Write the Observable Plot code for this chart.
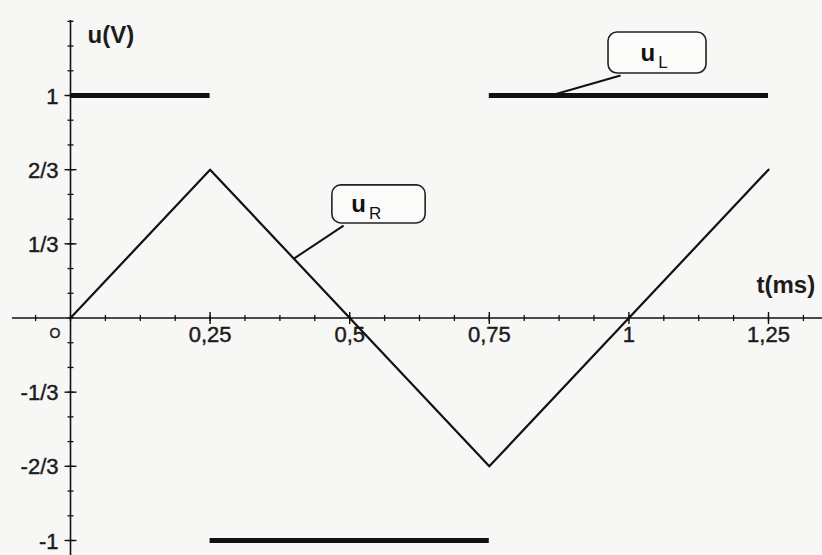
<!DOCTYPE html>
<html>
<head>
<meta charset="utf-8">
<script src="https://cdn.jsdelivr.net/npm/d3@7"></script>
<script src="https://cdn.jsdelivr.net/npm/@observablehq/plot@0.6"></script>
<style>
  html, body { margin: 0; padding: 0; background: #f7f7f5; }
  #chart svg { display: block; }
</style>
</head>
<body>
<div id="chart"></div>
<script>
// u_R(t): triangular voltage across the resistor (vertices)
const tR = [0, 0.25, 0.75, 1.25];
const uR = [0, 2/3, -2/3, 2/3];

// u_L(t): square voltage across the coil, one constant level per segment
const tLStart = [0, 0.25, 0.75];
const tLEnd   = [0.25, 0.75, 1.25];
const uL      = [1, -1, 1];

// graduations and their labels
const xTickValues = [0.25, 0.5, 0.75, 1, 1.25];
const xTickLabels = ["0,25", "0,5", "0,75", "1", "1,25"];
const yTickValues = [1, 2/3, 1/3, -1/3, -2/3, -1];
const yTickLabels = ["1", "2/3", "1/3", "-1/3", "-2/3", "-1"];

// callout labels: name, subscript
const calloutMain = ["u", "u"];
const calloutSub  = ["L", "R"];

// ---- layout ----
const W = 822, H = 555;
const originX = 70, pxPerMs = 558.4;
const originY = 317.5, pxPerV = 222.5;
const xDomain = [-originX / pxPerMs, (W - originX) / pxPerMs];
const yDomain = [-(H - originY) / pxPerV, originY / pxPerV];

const ink = "#111";
const labelInk = "#1c1c1c";
const font = "'Liberation Sans', Arial, Helvetica, sans-serif";

const triangle = tR.map((t, i) => ({t, u: uR[i]}));
const square = tLStart.map((t, i) => ({t1: t, t2: tLEnd[i], u: uL[i]}));

// minor graduations: every 1/16 ms and every 1/9 V
const xMinor = d3.range(-1, 22).map(i => i / 16);
const yMinor = d3.range(-9, 13).map(i => i / 9);

// short line symbols for the graduation ticks
const vTick = {draw(ctx, size) { const r = Math.sqrt(size / Math.PI); ctx.moveTo(0, -r); ctx.lineTo(0, r); }};
const hTick = {draw(ctx, size) { const r = Math.sqrt(size / Math.PI); ctx.moveTo(-r, 0); ctx.lineTo(r, 0); }};

// callout boxes and leader lines (data coordinates)
const callouts = [
  {box: [0.9635, 1.139, 1.099, 1.283], from: [0.985, 1.09], to: [0.86, 1.0], tx: 1.047, ty: 1.19},
  {box: [0.469, 0.636, 0.425, 0.596], from: [0.489, 0.415], to: [0.40, 0.2667], tx: 0.529, ty: 0.51}
].map((c, i) => ({...c, main: calloutMain[i], sub: calloutSub[i]}));

// slightly heavier strokes on the regular labels, as printed
const labelStyle = {fill: labelInk, stroke: labelInk, strokeWidth: 0.45};

const chart = Plot.plot({
  width: W,
  height: H,
  margin: 0,
  style: {background: "#f7f7f5", fontFamily: font, color: ink},
  x: {domain: xDomain, axis: null},
  y: {domain: yDomain, axis: null},
  marks: [
    // axes
    Plot.ruleY([0], {x1: -0.104, x2: xDomain[1], stroke: ink, strokeWidth: 1.4}),
    Plot.ruleX([0], {y1: yDomain[0], y2: 1.337, stroke: ink, strokeWidth: 1.6}),
    Plot.dot(xMinor, {x: d => d, y: 0, symbol: vTick, r: 3, stroke: ink, strokeWidth: 1.3, fill: "none"}),
    Plot.dot(xTickValues, {x: d => d, y: 0, symbol: vTick, r: 6, stroke: ink, strokeWidth: 1.4, fill: "none"}),
    Plot.dot(yMinor, {x: 0, y: d => d, symbol: hTick, r: 3, stroke: ink, strokeWidth: 1.3, fill: "none"}),
    Plot.dot(yTickValues, {x: 0, y: d => d, symbol: hTick, r: 6, stroke: ink, strokeWidth: 1.4, fill: "none"}),

    // tick labels
    Plot.text(xTickValues, {x: d => d, y: 0, text: (d, i) => xTickLabels[i], dy: 17, fontSize: 22, ...labelStyle}),
    Plot.text(yTickValues, {x: 0, y: d => d, text: (d, i) => yTickLabels[i], textAnchor: "end", dx: -12, dy: 1, fontSize: 22, ...labelStyle}),
    Plot.text(["O"], {x: 0, y: 0, text: d => d, textAnchor: "end", dx: -10, dy: 16, fontSize: 14, ...labelStyle}),

    // axis titles
    Plot.text(["u(V)"], {x: 0, y: 1.27, text: d => d, textAnchor: "start", dx: 17, fontSize: 24, fontWeight: "bold", fill: labelInk}),
    Plot.text(["t(ms)"], {x: 1.2285, y: 0.146, text: d => d, textAnchor: "start", fontSize: 24, fontWeight: "bold", fill: labelInk}),

    // u_L: square wave
    Plot.ruleY(square, {x1: "t1", x2: "t2", y: "u", stroke: ink, strokeWidth: 5}),

    // u_R: triangular wave
    Plot.line(triangle, {x: "t", y: "u", stroke: ink, strokeWidth: 2.2}),

    // callouts
    Plot.link(callouts, {x1: d => d.from[0], y1: d => d.from[1], x2: d => d.to[0], y2: d => d.to[1], stroke: ink, strokeWidth: 2}),
    Plot.rect(callouts, {x1: d => d.box[0], x2: d => d.box[1], y1: d => d.box[2], y2: d => d.box[3], rx: 9, fill: "#fbfbfa", stroke: "#222", strokeWidth: 1.6}),
    Plot.text(callouts, {x: "tx", y: "ty", text: "main", textAnchor: "end", fontSize: 24, fontWeight: "bold", fill: "#111"}),
    Plot.text(callouts, {x: "tx", y: "ty", text: "sub", textAnchor: "start", dx: 3, dy: 9, fontSize: 17, fill: "#111"})
  ]
});

document.getElementById("chart").appendChild(chart);
</script>
</body>
</html>
